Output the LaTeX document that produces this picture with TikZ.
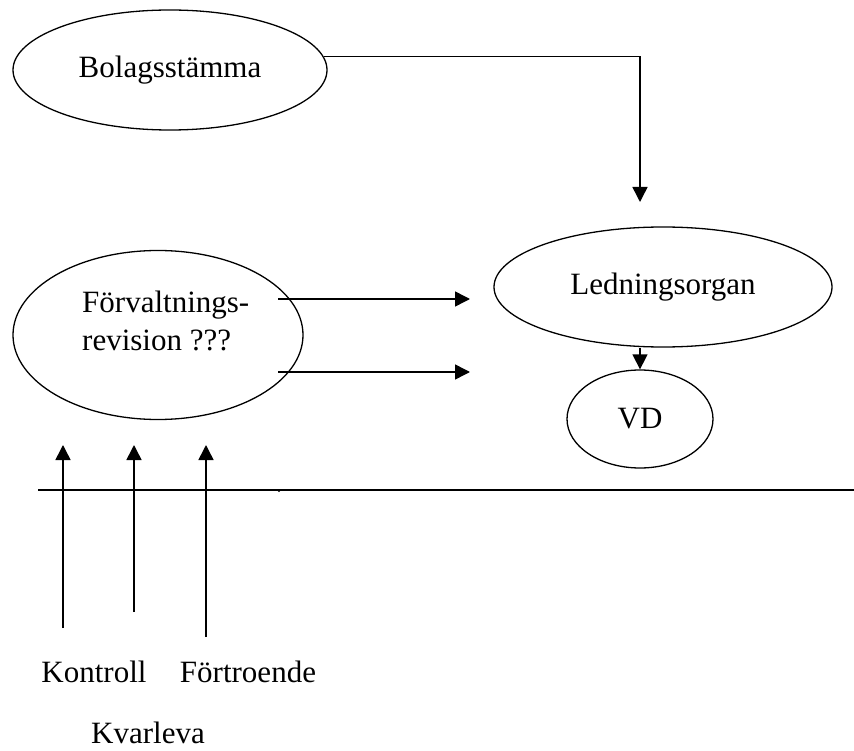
\documentclass[tikz,border=0pt]{standalone}
\usepackage{fontspec}
\setmainfont{Liberation Serif}
\usetikzlibrary{shapes.geometric,arrows.meta}
\begin{document}
\begin{tikzpicture}[x=1pt,y=-1pt,
  oval/.style={ellipse, draw, line width=1.3pt, inner sep=0pt},
  lbl/.style={font=\fontsize{31}{38}\selectfont},
  arr/.style={line width=1.5pt, -{Triangle[length=15pt,width=15pt]}},
  ln/.style={line width=1.5pt}]
\useasboundingbox (0,0) rectangle (854,751);
% ellipses
\node[oval, lbl, minimum width=314pt, minimum height=120pt] (bol) at (170,70) {Bolagsstämma};
\node[oval, lbl, minimum width=338pt, minimum height=120pt] (led) at (663,287) {Ledningsorgan};
\node[oval, lbl, minimum width=146pt, minimum height=98pt] (vd) at (640,419) {VD};
\node[oval, minimum width=290pt, minimum height=169pt] (fv) at (158,335) {};
\node[lbl, align=left, inner sep=0pt, anchor=north west] (fvt) at (82,291) {Förvaltnings-\\revision ???};
% connectors
\coordinate (c1e) at (640,202);
\draw[arr] (bol.5) -- (bol.5 -| c1e) -- (c1e);
\draw[arr] (led.south -| vd.north) -- (vd.north);
\coordinate (a1s) at (278,299);
\coordinate (a1e) at (470,299);
\coordinate (a2s) at (278,372);
\coordinate (a2e) at (470,372);
\draw[arr] (a1s) -- (a1e);
\draw[arr] (a2s) -- (a2e);
% horizontal line
\coordinate (hl) at (38,490);
\coordinate (hr) at (854,490);
\draw[ln] (hl) -- (hr);
\coordinate (tk) at (279,491);
\fill (tk) circle (1.1pt);
% upward arrows
\coordinate (k1b) at (63,628);
\coordinate (k1t) at (63,445);
\coordinate (k2b) at (134,612);
\coordinate (k2t) at (134,445);
\coordinate (k3b) at (206,637);
\coordinate (k3t) at (206,445);
\draw[arr] (k1b) -- (k1t);
\draw[arr] (k2b) -- (k2t);
\draw[arr] (k3b) -- (k3t);
% labels
\node[lbl, anchor=base, inner sep=0pt] (kon) at (94,682) {Kontroll};
\node[lbl, anchor=base, inner sep=0pt] (fort) at (248,682) {Förtroende};
\node[lbl, anchor=base, inner sep=0pt] (kva) at (148,743) {Kvarleva};
\end{tikzpicture}
\end{document}
